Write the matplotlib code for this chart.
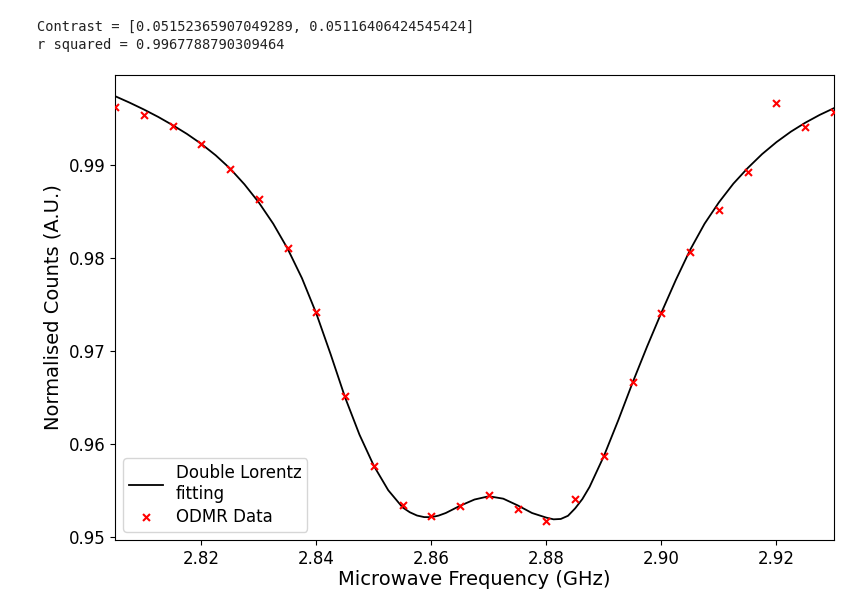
import matplotlib
matplotlib.use("Agg")
import matplotlib.pyplot as plt

# ODMR measurement points (GHz, normalised counts)
freq = [2.805, 2.810, 2.815, 2.820, 2.825, 2.830, 2.835, 2.840, 2.845, 2.850,
        2.855, 2.860, 2.865, 2.870, 2.875, 2.880, 2.885, 2.890, 2.895, 2.900,
        2.905, 2.910, 2.915, 2.920, 2.925, 2.930]
counts = [0.99624, 0.99541, 0.99423, 0.99225, 0.98961, 0.98639, 0.98109, 0.97426,
          0.96517, 0.95765, 0.95347, 0.95225, 0.95339, 0.95457, 0.95304, 0.95175,
          0.95411, 0.95873, 0.96664, 0.97415, 0.98065, 0.98514, 0.98925, 0.99670,
          0.99408, 0.99569]

# Double Lorentz fit (finer steps around the two dips)
fit_freq = [2.8050, 2.8075, 2.8100, 2.8125, 2.8150, 2.8175, 2.8200, 2.8225, 2.8250,
            2.8275, 2.8300, 2.8325, 2.8350, 2.8375, 2.8400, 2.8425, 2.8450, 2.8475,
            2.8500, 2.8525, 2.8550, 2.85625, 2.8575, 2.85875, 2.8600, 2.86125, 2.8625,
            2.8650, 2.8675, 2.8700, 2.8725, 2.8750, 2.8775, 2.8800, 2.88125, 2.8825,
            2.88375, 2.8850, 2.88625, 2.8875, 2.8900, 2.8925, 2.8950, 2.8975, 2.9000,
            2.9025, 2.9050, 2.9075, 2.9100, 2.9125, 2.9150, 2.9175, 2.9200, 2.9225,
            2.9250, 2.9275, 2.9300]
fit_counts = [0.99741, 0.99672, 0.99598, 0.99518, 0.99430, 0.99335, 0.99228, 0.99105,
              0.98963, 0.98793, 0.98598, 0.98370, 0.98102, 0.97784, 0.97404, 0.96964,
              0.96502, 0.96102, 0.95767, 0.95505, 0.95320, 0.95268, 0.95233, 0.95216,
              0.95215, 0.95232, 0.95260, 0.95338, 0.95405, 0.95440, 0.95414, 0.95342,
              0.95260, 0.95210, 0.95192, 0.95196, 0.95230, 0.95310, 0.95410, 0.95540,
              0.95873, 0.96258, 0.96664, 0.97049, 0.97415, 0.97765, 0.98090, 0.98370,
              0.98600, 0.98800, 0.98968, 0.99118, 0.99247, 0.99359, 0.99455, 0.99539,
              0.99612]

contrast = [0.05152365907049289, 0.05116406424545424]
r_squared = 0.9967788790309464

fig = plt.figure(figsize=(8.59, 5.93), dpi=100)
ax = fig.add_axes([0.1339, 0.0894, 0.8370, 0.7841])

# printed notebook output above the plot
fig.text(37 / 859, 1 - 27 / 593, f"Contrast = {contrast}", family="DejaVu Sans Mono",
         fontsize=9.95, color="#222222", va="center")
fig.text(37 / 859, 1 - 45 / 593, f"r squared = {r_squared}", family="DejaVu Sans Mono",
         fontsize=9.95, color="#222222", va="center")

ax.plot(fit_freq, fit_counts, color="black", linewidth=1.3, label="Double Lorentz\nfitting")
ax.scatter(freq, counts, marker="x", color="red", s=25, linewidths=1.5, label="ODMR Data",
           zorder=3)

ax.set_xlim(min(freq), max(freq))
ax.set_ylim(0.9497, 0.99968)
ax.set_xticks([2.82, 2.84, 2.86, 2.88, 2.90, 2.92])
ax.set_yticks([0.95, 0.96, 0.97, 0.98, 0.99])
ax.tick_params(labelsize=12)

ax.set_xlabel("Microwave Frequency (GHz)", fontsize=14, labelpad=2)
ax.set_ylabel("Normalised Counts (A.U.)", fontsize=14)
ax.legend(loc="lower left", fontsize=12, labelspacing=0.3, borderpad=0.35)

fig.savefig("out.png", dpi=100)
